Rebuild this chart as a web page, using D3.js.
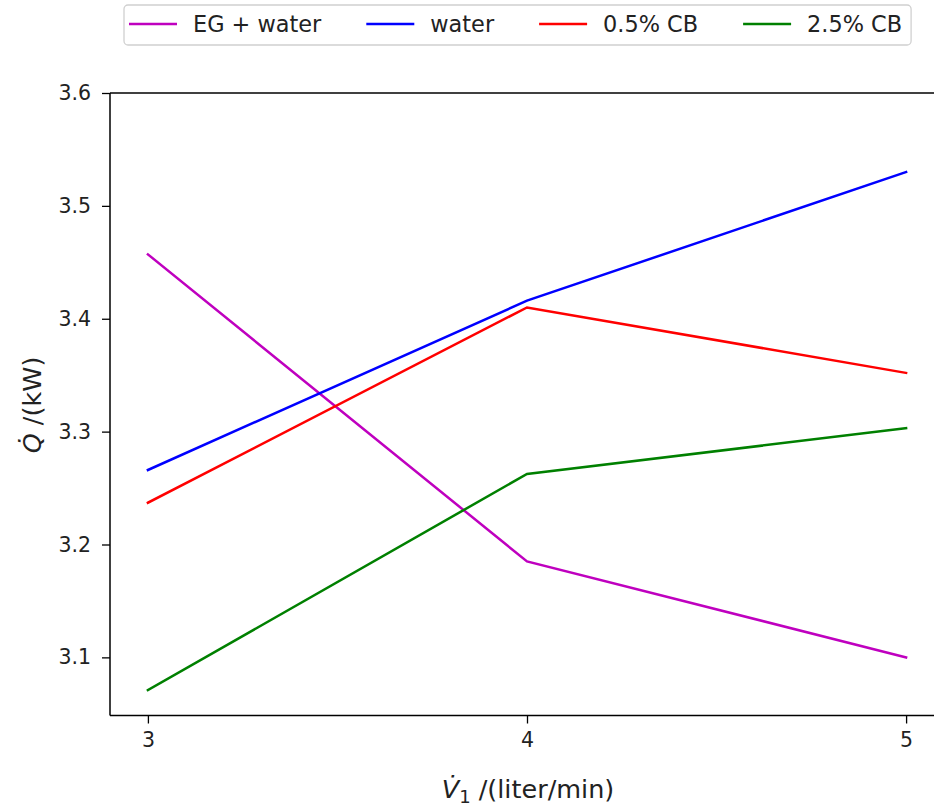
<!DOCTYPE html>
<html>
<head>
<meta charset="utf-8">
<script src="https://cdn.jsdelivr.net/npm/d3@7"></script>
<style>
  body { margin: 0; background: #fff; }
  text { font-family: "DejaVu Sans", sans-serif; fill: #222; }
</style>
</head>
<body>
<script>
// flow rate in liter/min
const flow = [3, 4, 5];
// heat transfer rate in kW
const egWater = [3.457, 3.185, 3.100];
const water = [3.266, 3.416, 3.530];
const cb05 = [3.237, 3.410, 3.352];
const cb25 = [3.071, 3.2625, 3.303];

const series_names = ["EG + water", "water", "0.5% CB", "2.5% CB"];
const series_vals = [egWater, water, cb05, cb25];
const series_cols = ["#bf00bf", "#0000ff", "#ff0000", "#008000"];

const yTicks = [3.1, 3.2, 3.3, 3.4, 3.5, 3.6];
const xTicks = [3, 4, 5];

let w = 934, h = 810;
let m_left = 110, m_right = 944, m_top = 93, m_bottom = 715.5;

let svg = d3.select("body")
    .append("svg")
    .attr("width", w)
    .attr("height", h)
    .style("display", "block");

let x = d3.scaleLinear().domain([2.9, 5.1]).range([m_left, m_right]);
let y = d3.scaleLinear().domain([3.0485, 3.6]).range([m_bottom, m_top]);

// lines
let line = d3.line().x((d, i) => x(flow[i])).y(d => y(d));
series_vals.forEach((vals, k) => {
    svg.append("path")
        .datum(vals)
        .attr("d", line)
        .attr("fill", "none")
        .attr("stroke", series_cols[k])
        .attr("stroke-width", 2.5)
        .attr("stroke-linecap", "square");
});

// axes
let xAxis = d3.axisBottom(x).tickValues(xTicks).tickSize(8).tickPadding(9).tickFormat(d3.format("d"));
let yAxis = d3.axisLeft(y).tickValues(yTicks).tickSize(8).tickPadding(11).tickFormat(d3.format(".1f"));

let gx = svg.append("g").attr("transform", `translate(0,${m_bottom})`).call(xAxis);
let gy = svg.append("g").attr("transform", `translate(${m_left},0)`).call(yAxis);
[gx, gy].forEach(g => {
    g.select(".domain").remove();
    g.selectAll(".tick line").attr("stroke", "#000").attr("stroke-width", 1.3);
    g.selectAll(".tick text").style("font-size", "20.5px").style("fill", "#222")
        .attr("font-family", "DejaVu Sans");
});

// spines
svg.append("line").attr("x1", m_left).attr("x2", m_left).attr("y1", m_top).attr("y2", m_bottom)
    .attr("stroke", "#000").attr("stroke-width", 1.5);
svg.append("line").attr("x1", m_left).attr("x2", w).attr("y1", m_bottom).attr("y2", m_bottom)
    .attr("stroke", "#000").attr("stroke-width", 1.5);
svg.append("line").attr("x1", m_left).attr("x2", w).attr("y1", m_top).attr("y2", m_top)
    .attr("stroke", "#000").attr("stroke-width", 1.5);

// x label
let xl = svg.append("text")
    .attr("x", 528)
    .attr("y", 798)
    .attr("text-anchor", "middle")
    .style("font-size", "25.5px");
xl.append("tspan").style("font-style", "italic").text("V\u0307");
xl.append("tspan").attr("dy", 5).style("font-size", "18px").text("1");
xl.append("tspan").attr("dy", -5).text(" /(liter/min)");

// y label
let yl = svg.append("text")
    .attr("transform", "translate(41,405) rotate(-90)")
    .attr("text-anchor", "middle")
    .style("font-size", "25.5px");
yl.append("tspan").style("font-style", "italic").text("Q\u0307");
yl.append("tspan").text(" /(kW)");

// legend
let leg = svg.append("g");
let box = leg.append("rect")
    .attr("y", 5).attr("height", 40).attr("rx", 4)
    .attr("fill", "#fff").attr("stroke", "#d0d0d0").attr("stroke-width", 1.3);
let cx = 129;
series_names.forEach((name, k) => {
    leg.append("line")
        .attr("x1", cx).attr("x2", cx + 48).attr("y1", 24).attr("y2", 24)
        .attr("stroke", series_cols[k]).attr("stroke-width", 2.5);
    let t = leg.append("text")
        .attr("x", cx + 64).attr("y", 32)
        .style("font-size", "22.4px")
        .text(name);
    cx = cx + 64 + t.node().getComputedTextLength() + 45;
});
box.attr("x", 124).attr("width", cx - 45 + 9 - 124);
</script>
</body>
</html>
